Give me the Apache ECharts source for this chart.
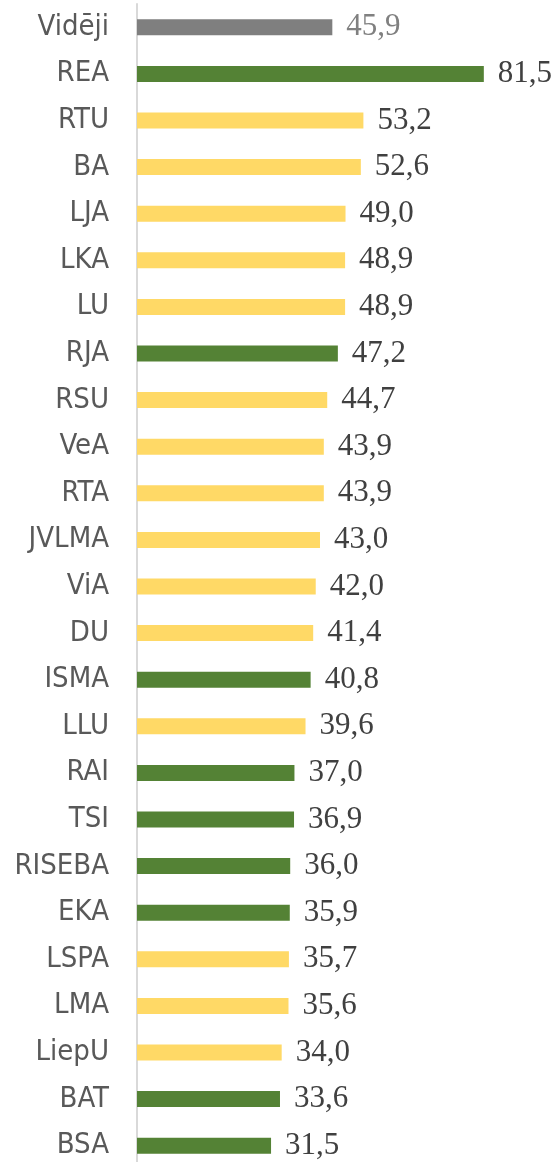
<!DOCTYPE html>
<html>
<head>
<meta charset="utf-8">
<script src="https://cdn.jsdelivr.net/npm/echarts@6/dist/echarts.min.js"></script>
<style>
  html, body { margin: 0; padding: 0; background: #fff; }
  #chart { width: 558px; height: 1162px; }
</style>
</head>
<body>
<div id="chart"></div>
<script>
// kategorijas (no augšas uz leju)
var categories = ['Vidēji', 'REA', 'RTU', 'BA', 'LJA', 'LKA', 'LU', 'RJA', 'RSU', 'VeA', 'RTA', 'JVLMA',
  'ViA', 'DU', 'ISMA', 'LLU', 'RAI', 'TSI', 'RISEBA', 'EKA', 'LSPA', 'LMA', 'LiepU', 'BAT', 'BSA'];
var values = [45.9, 81.5, 53.2, 52.6, 49.0, 48.9, 48.9, 47.2, 44.7, 43.9, 43.9, 43.0,
  42.0, 41.4, 40.8, 39.6, 37.0, 36.9, 36.0, 35.9, 35.7, 35.6, 34.0, 33.6, 31.5];
// grupa: avg = vidējais, priv = privātā, pub = valsts
var groups = ['avg', 'priv', 'pub', 'pub', 'pub', 'pub', 'pub', 'priv', 'pub', 'pub', 'pub', 'pub',
  'pub', 'pub', 'priv', 'pub', 'priv', 'priv', 'priv', 'priv', 'pub', 'pub', 'pub', 'priv', 'priv'];

var groupColor = { avg: '#7f7f7f', priv: '#548235', pub: '#ffd966' };

var chart = echarts.init(document.getElementById('chart'));

var seriesData = [];
for (var i = 0; i < values.length; i++) {
  seriesData.push({
    value: values[i],
    itemStyle: { color: groupColor[groups[i]] },
    label: { color: groups[i] == 'avg' ? '#808080' : '#404040' }
  });
}

var option = {
  animation: false,
  grid: {
    left: 137,
    top: 4,
    width: 383,
    height: 1165,
    containLabel: false,
    outerBoundsMode: 'none'
  },
  xAxis: {
    type: 'value',
    min: 0,
    max: 90,
    show: false
  },
  yAxis: {
    type: 'category',
    inverse: true,
    data: categories,
    axisLine: { show: true, lineStyle: { color: '#d9d9d9', width: 2 } },
    axisTick: { show: false },
    axisLabel: {
      margin: 28,
      color: '#595959',
      fontFamily: '"DejaVu Sans Condensed", "Liberation Sans"',
      fontSize: 29
    }
  },
  series: [
    {
      type: 'bar',
      data: seriesData,
      barWidth: 16,
      label: {
        show: true,
        position: 'right',
        distance: 14,
        fontFamily: 'Liberation Serif',
        fontSize: 31,
        formatter: function(p) {
          return p.value.toFixed(1).replace('.', ',');
        }
      }
    }
  ]
};
chart.setOption(option);
</script>
</body>
</html>
